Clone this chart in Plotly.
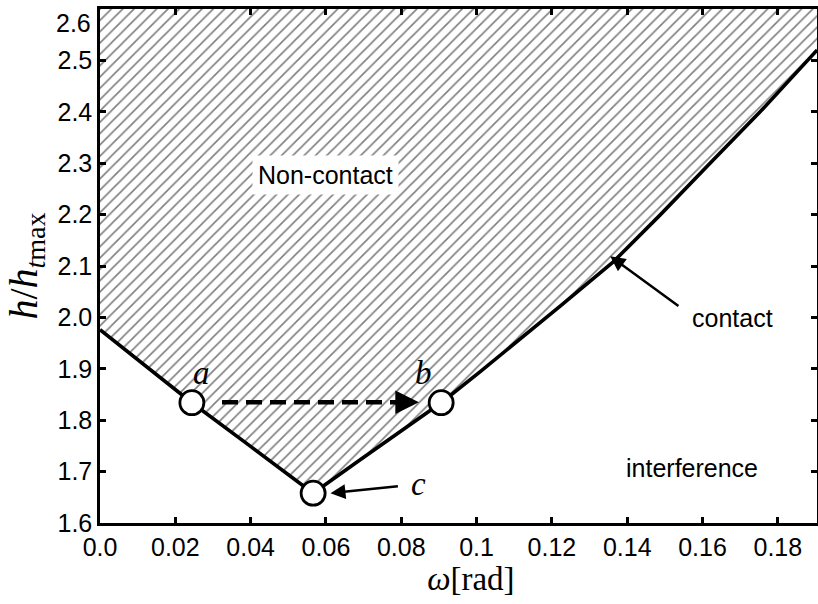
import plotly.graph_objects as go

# ---- data ----
omega = [0.0, 0.0122, 0.0244, 0.0398, 0.0566, 0.0691, 0.0797, 0.0906,
         0.1009, 0.1116, 0.1222, 0.1363, 0.1487, 0.1620, 0.1753, 0.1904]
h_ratio = [1.976, 1.905, 1.834, 1.750, 1.658, 1.723, 1.777, 1.834,
           1.894, 1.958, 2.022, 2.108, 2.199, 2.300, 2.400, 2.520]

point_labels = ["a", "b", "c"]
point_x = [0.0244, 0.0906, 0.0566]
point_y = [1.834, 1.834, 1.658]

x_range = [0.0, 0.1904]
y_range = [1.6, 2.6]
x_ticks = [0.0, 0.02, 0.04, 0.06, 0.08, 0.1, 0.12, 0.14, 0.16, 0.18]
x_ticktext = ["0.0", "0.02", "0.04", "0.06", "0.08", "0.1", "0.12", "0.14", "0.16", "0.18"]
y_ticks = [1.6, 1.7, 1.8, 1.9, 2.0, 2.1, 2.2, 2.3, 2.4, 2.5, 2.6]
y_ticktext = ["1.6", "1.7", "1.8", "1.9", "2.0", "2.1", "2.2", "2.3", "2.4", "2.5", "2.6"]

SANS = "Liberation Sans, Arial, Helvetica, sans-serif"
SERIF = "Liberation Serif, Times New Roman, serif"

fig = go.Figure()

# hatched non-contact region (above the boundary up to the top of the axes)
y_top = y_range[1] + 0.05
fig.add_trace(go.Scatter(
    x=omega + [omega[-1], omega[0]],
    y=h_ratio + [y_top, y_top],
    fill="toself", mode="lines", line=dict(width=0, color="rgba(0,0,0,0)"),
    fillcolor="white",
    fillpattern=dict(shape="/", size=8, solidity=0.2, fgcolor="black",
                     bgcolor="white"),
    hoverinfo="skip", showlegend=False,
))

# contact boundary
fig.add_trace(go.Scatter(
    x=omega, y=h_ratio, mode="lines",
    line=dict(color="black", width=3.6), showlegend=False,
))

# dashed arrow a -> b (shaft)
arrow_y = 1.835
fig.add_trace(go.Scatter(
    x=[0.0324, 0.0810], y=[arrow_y, arrow_y], mode="lines",
    line=dict(color="black", width=4.5, dash="16px,8px"), showlegend=False,
))

# points a, b, c
fig.add_trace(go.Scatter(
    x=point_x, y=point_y, mode="markers",
    marker=dict(symbol="circle", size=24, color="white",
                line=dict(color="black", width=2.8)),
    showlegend=False,
))

annotations = []
# arrow head for a -> b
annotations.append(dict(x=0.0847, y=arrow_y, ax=0.0800, ay=arrow_y,
                        xref="x", yref="y", axref="x", ayref="y",
                        showarrow=True, arrowhead=2, arrowsize=1.05,
                        arrowwidth=4.5, arrowcolor="black", text=""))
# point labels
lbl_font = dict(family=SERIF, size=33, color="black")
annotations.append(dict(x=0.0270, y=1.892, xref="x", yref="y", text="<i>" + point_labels[0] + "</i>",
                        showarrow=False, font=lbl_font))
annotations.append(dict(x=0.0858, y=1.892, xref="x", yref="y", text="<i>" + point_labels[1] + "</i>",
                        showarrow=False, font=lbl_font))
annotations.append(dict(x=0.0845, y=1.675, xref="x", yref="y", text="<i>" + point_labels[2] + "</i>",
                        showarrow=False, font=lbl_font))
# arrow to c
annotations.append(dict(x=0.0612, y=1.658, ax=0.0795, ay=1.672,
                        xref="x", yref="y", axref="x", ayref="y",
                        showarrow=True, arrowhead=2, arrowsize=1.2,
                        arrowwidth=2.5, arrowcolor="black", text=""))
# contact arrow
annotations.append(dict(x=0.1355, y=2.119, ax=0.1540, ay=2.020,
                        xref="x", yref="y", axref="x", ayref="y",
                        showarrow=True, arrowhead=2, arrowsize=1.2,
                        arrowwidth=2.5, arrowcolor="black", text=""))
# region texts
txt_font = dict(family=SANS, size=25, color="black")
annotations.append(dict(x=0.0598, y=2.277, xref="x", yref="y", text="Non-contact",
                        showarrow=False, bgcolor="white", borderpad=5, font=txt_font))
annotations.append(dict(x=0.1679, y=1.999, xref="x", yref="y", text="contact",
                        showarrow=False, font=txt_font))
annotations.append(dict(x=0.1572, y=1.707, xref="x", yref="y", text="interference",
                        showarrow=False, font=txt_font))
# top y tick label, drawn just below its tick (as in the reference)
annotations.append(dict(x=0, y=y_ticks[-1], xref="paper", yref="y",
                        text=y_ticktext[-1], showarrow=False,
                        xanchor="right", yanchor="top", xshift=-7, yshift=2,
                        font=dict(family=SANS, size=25, color="black")))

axis_common = dict(
    showline=True, linecolor="black", linewidth=2.5, mirror="ticks",
    ticks="inside", ticklen=6, tickwidth=2.5, tickcolor="black",
    showgrid=False, zeroline=False, automargin=False,
    tickfont=dict(family=SANS, size=25, color="black"),
)

fig.update_layout(
    width=818, height=604,
    margin=dict(l=100, r=1, t=9, b=81),
    paper_bgcolor="white", plot_bgcolor="white",
    xaxis=dict(range=x_range, tickvals=x_ticks, ticktext=x_ticktext,
               title=dict(text="&nbsp;&nbsp;&nbsp;<i>ω</i>[rad]", standoff=4,
                          font=dict(family=SERIF, size=33, color="black")),
               **axis_common),
    yaxis=dict(range=y_range, tickvals=y_ticks,
               ticktext=y_ticktext[:-1] + [""],
               title=dict(text="<i>h</i>/<i>h</i><sub><i>t</i>max</sub>", standoff=8,
                          font=dict(family=SERIF, size=40, color="black")),
               **axis_common),
    annotations=annotations,
)

fig.write_html(
    "out.html",
    config={"displayModeBar": False},
    post_script="document.body.style.margin='0';document.body.style.overflow='hidden';",
)
